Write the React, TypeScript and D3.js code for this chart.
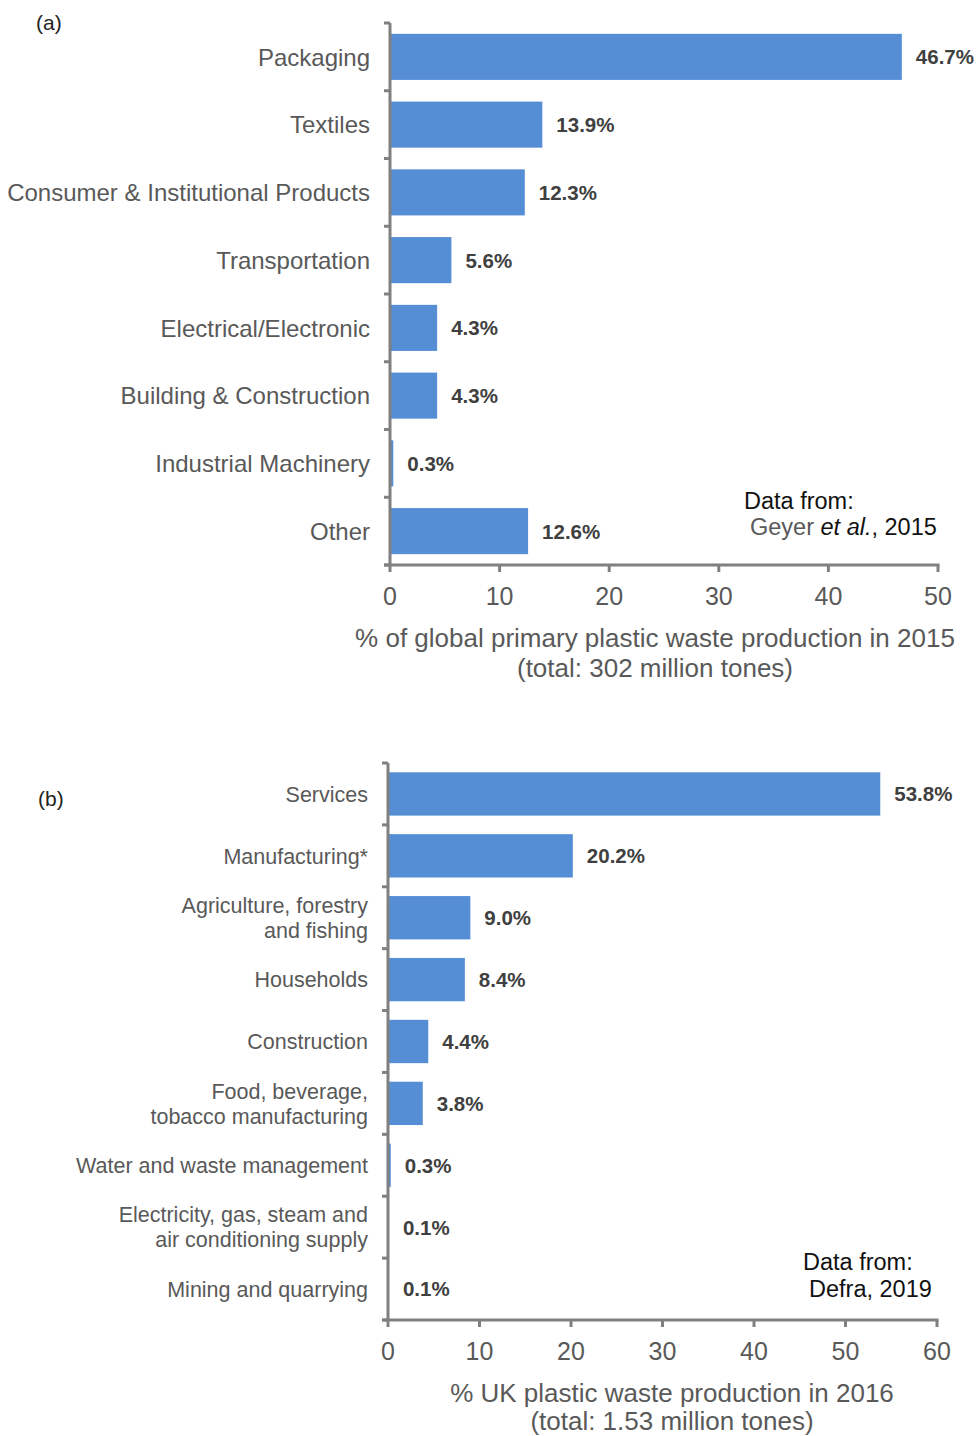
import React from "react";
import * as d3 from "d3";

// panel (a) - Geyer et al. 2015
const sectorsA = [
  "Packaging",
  "Textiles",
  "Consumer & Institutional Products",
  "Transportation",
  "Electrical/Electronic",
  "Building & Construction",
  "Industrial Machinery",
  "Other",
];
const valuesA = [46.7, 13.9, 12.3, 5.6, 4.3, 4.3, 0.3, 12.6];
const ticksA = [0, 10, 20, 30, 40, 50];

// panel (b) - Defra 2019
const sectorsB = [
  ["Services"],
  ["Manufacturing*"],
  ["Agriculture, forestry", "and fishing"],
  ["Households"],
  ["Construction"],
  ["Food, beverage,", "tobacco manufacturing"],
  ["Water and waste management"],
  ["Electricity, gas, steam and", "air conditioning supply"],
  ["Mining and quarrying"],
];
const valuesB = [53.8, 20.2, 9.0, 8.4, 4.4, 3.8, 0.3, 0.1, 0.1];
const ticksB = [0, 10, 20, 30, 40, 50, 60];

const BAR = "#558ed5";
const AXIS = "#808080";
const GREY = "#595959";
const FONT = "'Liberation Sans', Arial, sans-serif";

type PanelProps = {
  labels: string[][];
  values: number[];
  ticks: number[];
  x0: number;
  x1: number;
  y0: number;
  y1: number;
  catSize: number;
  lineGap: number;
  pad: number;
};

const Panel = ({ labels, values, ticks, x0, x1, y0, y1, catSize, lineGap, pad }: PanelProps) => {
  const x = d3.scaleLinear().domain([0, ticks[ticks.length - 1]]).range([x0, x1]);
  const y = d3
    .scaleBand<number>()
    .domain(d3.range(values.length))
    .range([y0, y1])
    .paddingInner(pad)
    .paddingOuter(pad / 2);
  const step = y.step();
  const bounds = d3.range(values.length + 1).map((i) => y0 + i * step);

  return (
    <g>
      {values.map((v, i) => (
        <rect
          key={"b" + i}
          x={x(0)}
          y={y(i)}
          width={Math.max(0, x(v) - x(0))}
          height={y.bandwidth()}
          fill={BAR}
        />
      ))}
      {values.map((v, i) => (
        <text
          key={"v" + i}
          x={x(v) + 14}
          y={y(i)! + y.bandwidth() / 2}
          dy="0.36em"
          fontSize={20.5}
          fontWeight="bold"
          fill="#404040"
        >
          {v.toFixed(1)}%
        </text>
      ))}
      {labels.map((lines, i) => {
        const cy = y(i)! + y.bandwidth() / 2;
        const off = ((lines.length - 1) * lineGap) / 2;
        return (
          <text key={"c" + i} x={x0 - 20} textAnchor="end" fontSize={catSize} fill={GREY}>
            {lines.map((l, j) => (
              <tspan key={j} x={x0 - 20} y={cy - off + j * lineGap} dy="0.36em">
                {l}
              </tspan>
            ))}
          </text>
        );
      })}
      {/* y axis */}
      <line x1={x0} x2={x0} y1={y0} y2={y1} stroke={AXIS} strokeWidth={3} />
      {bounds.map((b, i) => (
        <line key={"yt" + i} x1={x0 - 6} x2={x0} y1={b} y2={b} stroke={AXIS} strokeWidth={3} />
      ))}
      {/* x axis */}
      <line x1={x0 - 6} x2={x1 + 1.5} y1={y1} y2={y1} stroke={AXIS} strokeWidth={3} />
      {ticks.map((t) => (
        <g key={"xt" + t}>
          <line x1={x(t)} x2={x(t)} y1={y1} y2={y1 + 7} stroke={AXIS} strokeWidth={3} />
          <text x={x(t)} y={y1 + 40} textAnchor="middle" fontSize={25} fill={GREY}>
            {t}
          </text>
        </g>
      ))}
    </g>
  );
};

export default function App() {
  return (
    <>
      <style>{"html,body{margin:0;padding:0;overflow:hidden}"}</style>
      <svg width={979} height={1436} fontFamily={FONT} style={{ display: "block" }}>
        <rect width={979} height={1436} fill="#fff" />
        <text x={36} y={30} fontSize={21} fill="#222">(a)</text>
        <Panel
          labels={sectorsA.map((s) => [s])}
          values={valuesA}
          ticks={ticksA}
          x0={390}
          x1={938}
          y0={23}
          y1={565}
          catSize={24}
          lineGap={24}
          pad={0.32}
        />
        <text x={655} y={647} textAnchor="middle" fontSize={26} fill={GREY}>
          % of global primary plastic waste production in 2015
        </text>
        <text x={655} y={677} textAnchor="middle" fontSize={26} fill={GREY}>
          (total: 302 million tones)
        </text>
        <text x={744} y={509} fontSize={23.5} fill="#111">Data from:</text>
        <text x={750} y={535} fontSize={23.5} fill="#111">
          <tspan fill={GREY}>Geyer </tspan>
          <tspan fontStyle="italic">et al.</tspan>
          <tspan>, 2015</tspan>
        </text>

        <text x={38} y={806} fontSize={21} fill="#222">(b)</text>
        <Panel
          labels={sectorsB}
          values={valuesB}
          ticks={ticksB}
          x0={388}
          x1={937}
          y0={763}
          y1={1320}
          catSize={21.5}
          lineGap={25}
          pad={0.3}
        />
        <text x={672} y={1402} textAnchor="middle" fontSize={26} fill={GREY}>
          % UK plastic waste production in 2016
        </text>
        <text x={672} y={1430} textAnchor="middle" fontSize={26} fill={GREY}>
          (total: 1.53 million tones)
        </text>
        <text x={803} y={1270} fontSize={23.5} fill="#111">Data from:</text>
        <text x={809} y={1297} fontSize={23.5} fill="#111">Defra, 2019</text>
      </svg>
    </>
  );
}
